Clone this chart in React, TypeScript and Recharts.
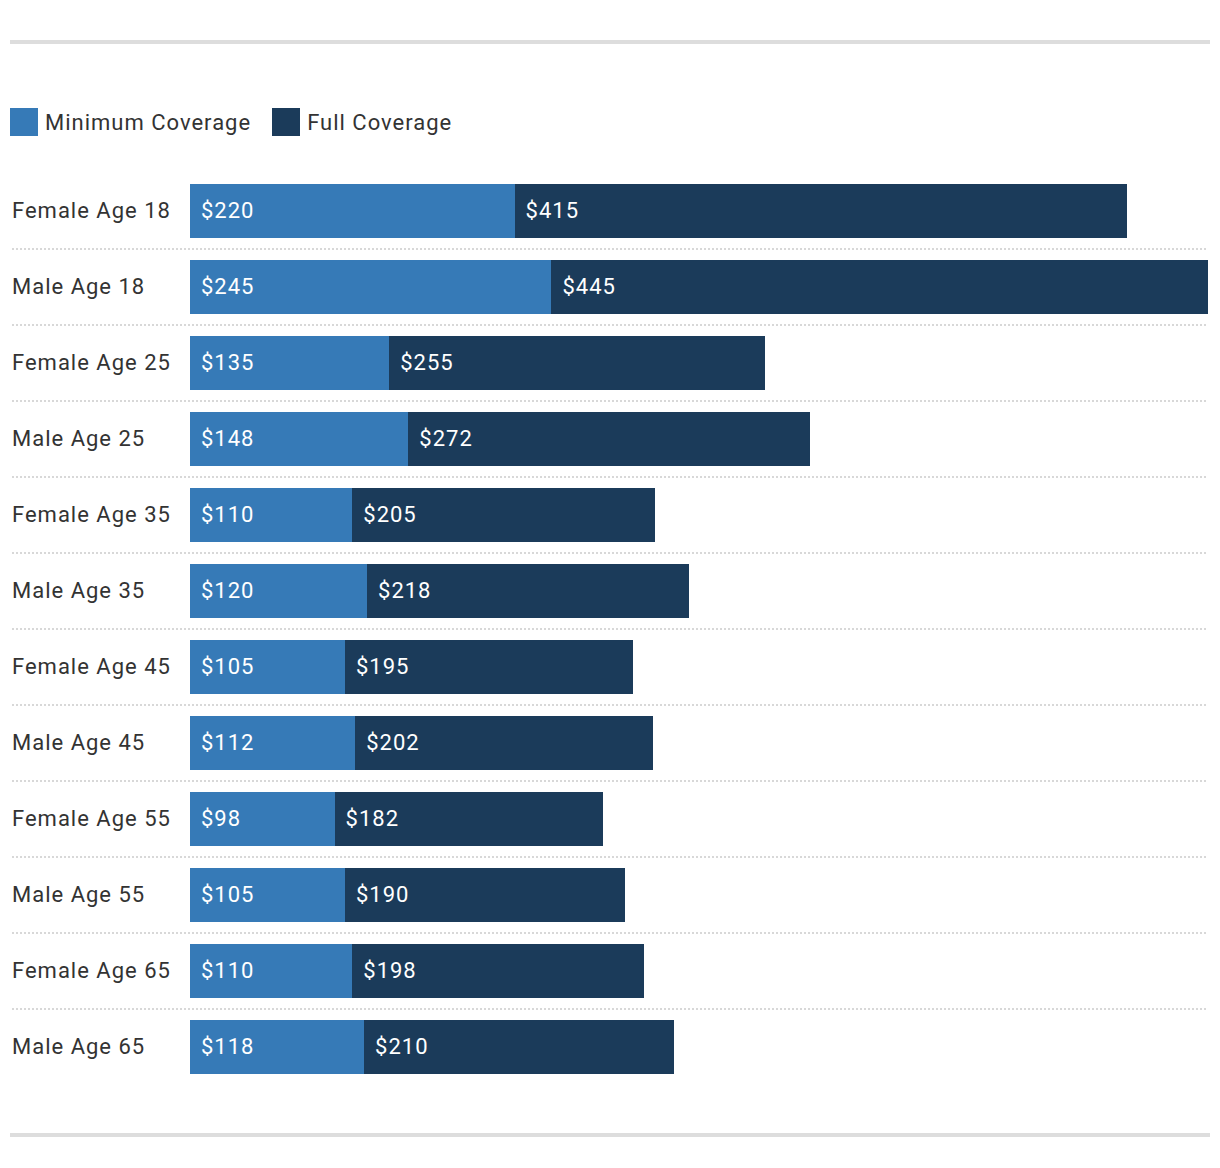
import React from 'react'
import { BarChart, Bar, XAxis, YAxis, LabelList } from 'recharts'

const categories = [
    'Female Age 18',
    'Male Age 18',
    'Female Age 25',
    'Male Age 25',
    'Female Age 35',
    'Male Age 35',
    'Female Age 45',
    'Male Age 45',
    'Female Age 55',
    'Male Age 55',
    'Female Age 65',
    'Male Age 65'
]
const minimumCoverage = [220, 245, 135, 148, 110, 120, 105, 112, 98, 105, 110, 118]
const fullCoverage = [415, 445, 255, 272, 205, 218, 195, 202, 182, 190, 198, 210]

const LIGHT = '#367ab7'
const DARK = '#1b3b5a'
const TEXT = '#333333'
const FONT = 'Roboto, "Noto Sans", sans-serif'

const chartData = categories.map((name, i) => ({
    name,
    minimum: minimumCoverage[i],
    full: fullCoverage[i]
}))

const ROW_HEIGHT = 76

const CategoryTick = (props: any) => {
    const { y, index, payload } = props
    const isLast = index === categories.length - 1
    return (
        <g>
            <text x={12} y={y} dy={6.5} fill={TEXT} fontSize={22} fontFamily={FONT} letterSpacing={1} textAnchor="start">
                {payload.value}
            </text>
            {!isLast && (
                <line x1={12} x2={1208} y1={y + ROW_HEIGHT / 2} y2={y + ROW_HEIGHT / 2} stroke="#d8d8d8" strokeWidth={2} strokeDasharray="2 2" />
            )}
        </g>
    )
}

const ValueLabel = (props: any) => {
    const { x, y, height, value } = props
    return (
        <text x={x + 11} y={y + height / 2} dy={6.5} fill="#ffffff" fontSize={22} fontFamily={FONT} letterSpacing={1} textAnchor="start">
            {`$${value}`}
        </text>
    )
}

const LegendItem: React.FC<{ color: string; label: string }> = ({ color, label }) => (
    <div style={{ display: 'flex', alignItems: 'center', marginRight: 21 }}>
        <div style={{ width: 28, height: 28, background: color, marginRight: 7 }} />
        <span style={{ fontSize: 22, color: TEXT, fontFamily: FONT, letterSpacing: 1 }}>{label}</span>
    </div>
)

export default function App() {
    return (
        <div style={{ position: 'relative', width: 1220, height: 1168, background: '#fff', fontFamily: FONT }}>
            <style>{'body{margin:0} .recharts-bar-rectangle path{shape-rendering:crispEdges}'}</style>
            <div style={{ position: 'absolute', left: 10, top: 40, width: 1200, height: 4, background: '#dddddd' }} />
            <div style={{ position: 'absolute', left: 10, top: 108, height: 28, display: 'flex' }}>
                <LegendItem color={LIGHT} label="Minimum Coverage" />
                <LegendItem color={DARK} label="Full Coverage" />
            </div>
            <div style={{ position: 'absolute', left: 0, top: 0 }}>
                <BarChart
                    width={1220}
                    height={1168}
                    data={chartData}
                    layout="vertical"
                    margin={{ top: 173, right: 12, bottom: 83, left: 10 }}
                    barSize={54}
                >
                    <XAxis type="number" hide domain={[0, 'dataMax']} />
                    <YAxis type="category" dataKey="name" width={180} axisLine={false} tickLine={false} tick={<CategoryTick />} interval={0} />
                    <Bar dataKey="minimum" stackId="a" fill={LIGHT} isAnimationActive={false}>
                        <LabelList dataKey="minimum" content={<ValueLabel />} />
                    </Bar>
                    <Bar dataKey="full" stackId="a" fill={DARK} isAnimationActive={false}>
                        <LabelList dataKey="full" content={<ValueLabel />} />
                    </Bar>
                </BarChart>
            </div>
            <div style={{ position: 'absolute', left: 10, top: 1133, width: 1200, height: 4, background: '#dddddd' }} />
        </div>
    )
}
